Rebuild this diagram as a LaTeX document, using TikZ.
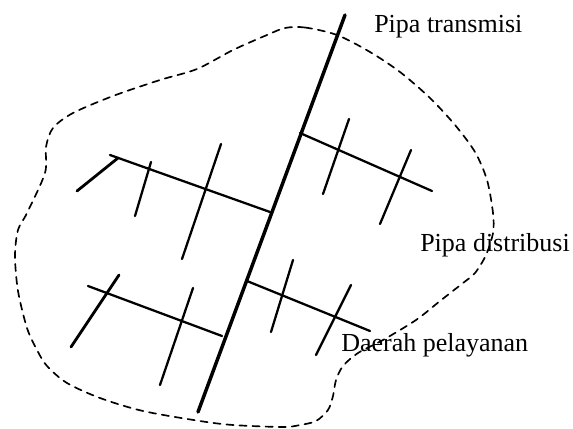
\documentclass[tikz,border=0pt]{standalone}
\usepackage{fontspec}
\setmainfont{Liberation Serif}

\begin{document}
\begin{tikzpicture}[x=0.75pt, y=-0.75pt, line join=round, line cap=round,
    mainpipe/.style={line width=2.6pt},
    branchpipe/.style={line width=1.7pt},
    stubpipe/.style={line width=2.1pt},
    arealine/.style={line width=1.25pt, dash pattern=on 5.4pt off 4.4pt},
    pipelabel/.style={anchor=base west, inner sep=0pt, font=\fontsize{19.5}{22}\selectfont}]
      \useasboundingbox (0,0) rectangle (573,428);
      % service area
      \draw[arealine] plot[smooth cycle, tension=0.5] coordinates {
        (285,28) (305,27.5) (337,35) (370,52) (400,72) (430,98) (455,125) (475,152) (487,180) (493,213)
        (493,233) (486,255) (475,273) (463,283) (440,301) (416,320) (383,340) (358,353) (343,366) (336,380)
        (333,396) (328,410) (316,421) (300,425) (283,427) (233,425) (200,421) (143,411) (100,398) (67,383)
        (47,366) (37,350) (27,328) (18,291) (15,256) (18,230) (27,213) (45,173) (46,147) (53,128)
        (73,113) (113,96) (160,80) (197,69) (233,50) (267,35)};
      % transmission pipe
      \coordinate (T1) at (345,15);
      \coordinate (T2) at (198,412);
      \draw[mainpipe] (T1) -- (T2);
      % branch upper left
      \coordinate (A0) at (270,212);
      \coordinate (A1) at (110,155);
      \coordinate (A2) at (77,191);
      \coordinate (A3) at (118,158);
      \draw[branchpipe] (A0) -- (A1);
      \draw[stubpipe] (A2) -- (A3);
      \coordinate (A4) at (151,162);
      \coordinate (A5) at (135,216);
      \coordinate (A6) at (221,144);
      \coordinate (A7) at (182,259);
      \draw[branchpipe] (A4) -- (A5);
      \draw[branchpipe] (A6) -- (A7);
      % branch upper right
      \coordinate (B0) at (300,133);
      \coordinate (B1) at (432,191);
      \coordinate (B2) at (349,119);
      \coordinate (B3) at (323,194);
      \coordinate (B4) at (411,150);
      \coordinate (B5) at (380,224);
      \draw[branchpipe] (B0) -- (B1);
      \draw[branchpipe] (B2) -- (B3);
      \draw[branchpipe] (B4) -- (B5);
      % branch lower left
      \coordinate (C0) at (222,336);
      \coordinate (C1) at (88,286);
      \coordinate (C2) at (119,275);
      \coordinate (C3) at (71,347);
      \coordinate (C4) at (193,288);
      \coordinate (C5) at (160,385);
      \draw[branchpipe] (C0) -- (C1);
      \draw[stubpipe] (C2) -- (C3);
      \draw[branchpipe] (C4) -- (C5);
      % branch lower right
      \coordinate (D0) at (247,281);
      \coordinate (D1) at (370,331);
      \coordinate (D2) at (293,260);
      \coordinate (D3) at (271,332);
      \coordinate (D4) at (351,285);
      \coordinate (D5) at (316,355);
      \draw[branchpipe] (D0) -- (D1);
      \draw[branchpipe] (D2) -- (D3);
      \draw[branchpipe] (D4) -- (D5);
      % labels
      \node[pipelabel] (transmisi) at (374,33) {Pipa transmisi};
      \node[pipelabel] (distribusi) at (420,251) {Pipa distribusi};
      \node[pipelabel] (daerah) at (341,351) {Daerah pelayanan};
    \end{tikzpicture}
\end{document}
